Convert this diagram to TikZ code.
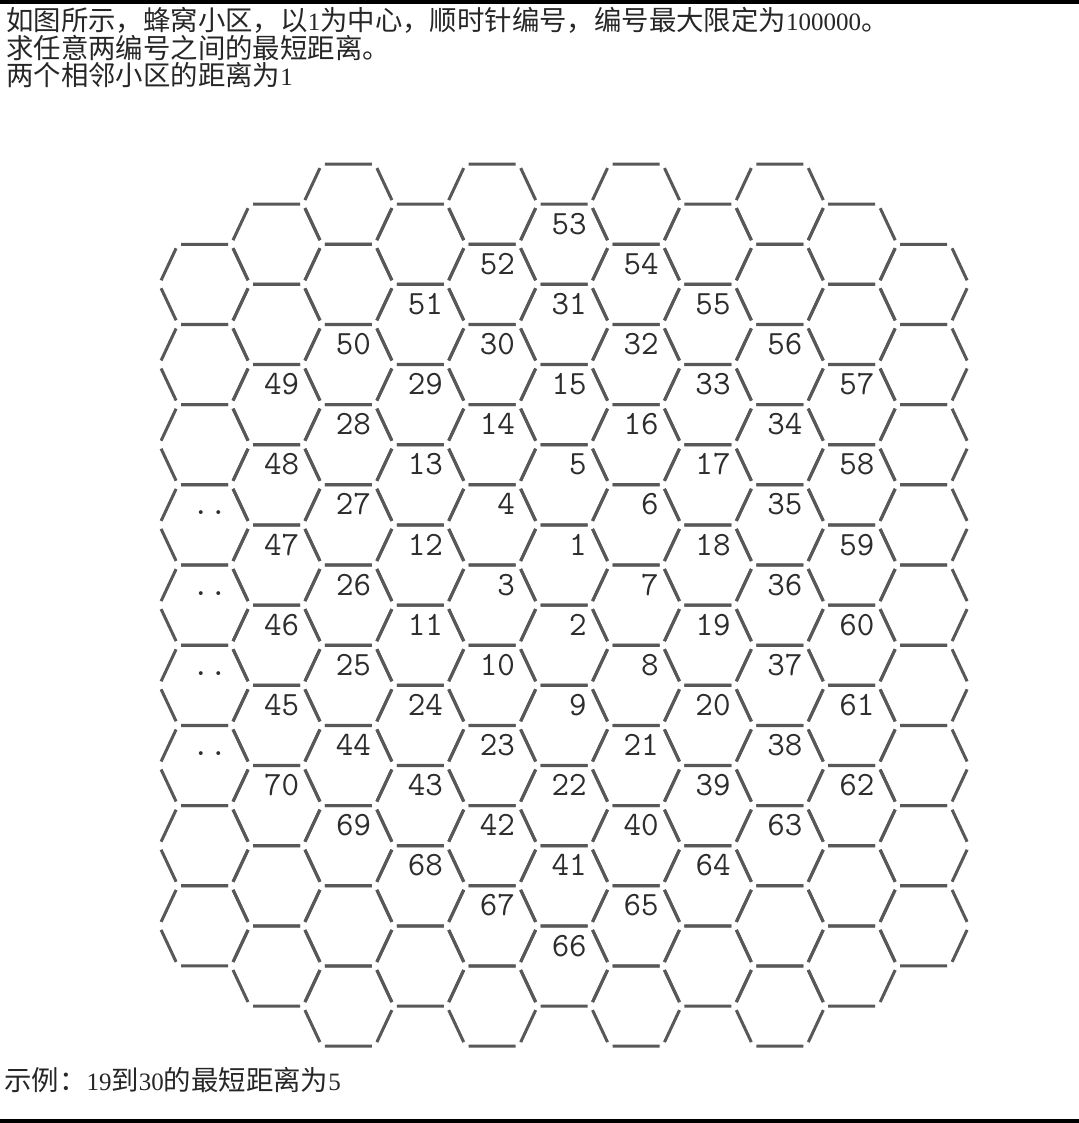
\documentclass[tikz,border=0pt]{standalone}
\usepackage{fontspec}
\setmainfont{Liberation Serif}
\newfontfamily\cjk[Scale=1.096]{Noto Sans CJK SC}
\usetikzlibrary{positioning}
\definecolor{hexgray}{RGB}{88,88,88}
\definecolor{numgray}{RGB}{45,45,45}

\begin{document}
\begin{tikzpicture}[x=0.5pt,y=-0.5pt,
    hexline/.style={draw=hexgray,line width=1.5pt},
    lbl/.style={anchor=base east,inner sep=0pt,text=numgray,
      font=\ttfamily\fontsize{17pt}{17pt}\selectfont\addfontfeatures{FakeStretch=1.28,FakeBold=2}},
    txt/.style={anchor=base west,inner sep=0pt,text=black!85,font=\fontsize{12.5pt}{14pt}\selectfont}]
    \useasboundingbox (0,0) rectangle (1079,1123);
    \fill (0,0) rectangle (1079,4.5);
    \fill (0,1118.5) rectangle (1079,1123);
    % text
    \node[txt] (l1) at (6,31) {{\cjk 如图所示，蜂窝小区，以}1{\cjk 为中心，顺时针编号，编号最大限定为}100000{\cjk 。}};
    \node[txt] (l2) [below=13.65pt of l1.base west,anchor=base west] {\cjk 求任意两编号之间的最短距离。};
    \node[txt] (l3) [below=13.65pt of l2.base west,anchor=base west] {{\cjk 两个相邻小区的距离为}1};
    \node[txt] (ex) at (4,1090) {{\cjk 示例：}19{\cjk 到}30{\cjk 的最短距离为}5};
    % honeycomb, column by column
    \foreach \c/\mtop/\mbot in {0/3/19,1/2/20,2/1/21,3/2/20,4/1/21,5/2/20,6/1/21,7/2/20,8/1/21,9/2/20,10/3/19}{
        \pgfmathtruncatemacro\mnext{\mtop+2}
        \foreach \m in {\mtop,\mnext,...,\mbot}{
            \draw[hexline,shift={({204.6+71.9*\c},{164+40.1*\m})}]
                (-23.5,-40) -- (23.5,-40) (-23.5,40) -- (23.5,40)
                (-43.5,-4) -- (-28.5,-36) (43.5,-4) -- (28.5,-36)
                (-43.5,4) -- (-28.5,36) (43.5,4) -- (28.5,36);
        }
    }
    % cell numbers
    \foreach \c/\m/\t in {5/2/53,4/3/52,6/3/54,3/4/51,5/4/31,7/4/55,2/5/50,4/5/30,6/5/32,8/5/56,
        1/6/49,3/6/29,5/6/15,7/6/33,9/6/57,2/7/28,4/7/14,6/7/16,8/7/34,
        1/8/48,3/8/13,5/8/5,7/8/17,9/8/58,2/9/27,4/9/4,6/9/6,8/9/35,
        1/10/47,3/10/12,5/10/1,7/10/18,9/10/59,2/11/26,4/11/3,6/11/7,8/11/36,
        1/12/46,3/12/11,5/12/2,7/12/19,9/12/60,2/13/25,4/13/10,6/13/8,8/13/37,
        1/14/45,3/14/24,5/14/9,7/14/20,9/14/61,2/15/44,4/15/23,6/15/21,8/15/38,
        1/16/70,3/16/43,5/16/22,7/16/39,9/16/62,2/17/69,4/17/42,6/17/40,8/17/63,
        3/18/68,5/18/41,7/18/64,4/19/67,6/19/65,5/20/66}
        \node[lbl] (n\t) at ({204.6+71.9*\c+23},{164+40.1*\m-10}) {\t};
    \foreach \m in {9,11,13,15}
        \node[lbl] (dots\m) at ({204.6+23},{164+40.1*\m-10}) {..};
\end{tikzpicture}
\end{document}
